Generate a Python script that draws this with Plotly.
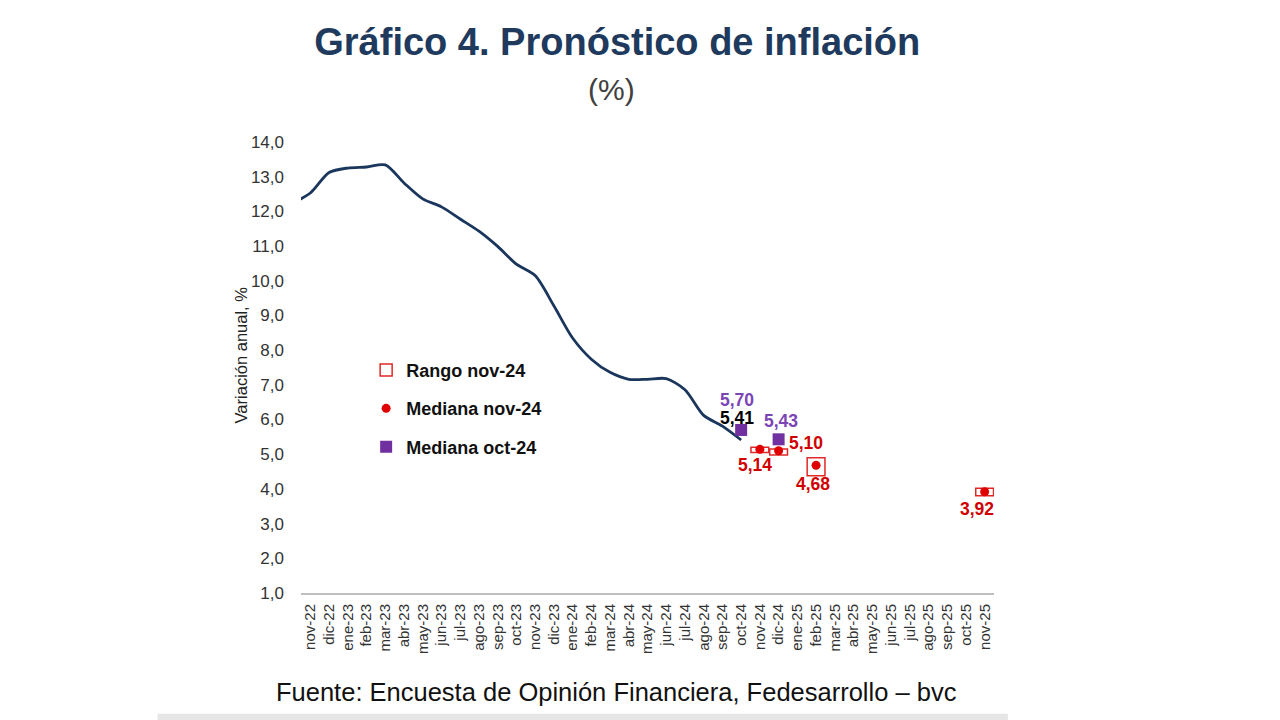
import plotly.graph_objects as go

# ---------------- data ----------------
months = ["nov-22", "dic-22", "ene-23", "feb-23", "mar-23", "abr-23", "may-23", "jun-23",
          "jul-23", "ago-23", "sep-23", "oct-23", "nov-23", "dic-23", "ene-24", "feb-24",
          "mar-24", "abr-24", "may-24", "jun-24", "jul-24", "ago-24", "sep-24", "oct-24",
          "nov-24", "dic-24", "ene-25", "feb-25", "mar-25", "abr-25", "may-25", "jun-25",
          "jul-25", "ago-25", "sep-25", "oct-25", "nov-25"]

# observed annual inflation (first point is oct-22, just left of the axis start)
hist_months = ["oct-22"] + months[:24]
hist_values = [12.22, 12.53, 13.12, 13.25, 13.28, 13.34, 12.82, 12.36, 12.13, 11.78, 11.43,
               10.99, 10.48, 10.15, 9.28, 8.35, 7.74, 7.36, 7.16, 7.16, 7.18, 6.86, 6.12,
               5.81, 5.41]

# survey nov-24
fc_months = ["nov-24", "dic-24", "feb-25", "nov-25"]
med_nov24 = [5.14, 5.10, 4.68, 3.92]
rango_low = [5.05, 4.98, 4.38, 3.80]
rango_high = [5.20, 5.15, 4.90, 4.02]

# survey oct-24
oct_months = ["oct-24", "dic-24"]
med_oct24 = [5.70, 5.43]

# ---------------- helpers ----------------
idx = {m: i for i, m in enumerate(months)}
idx["oct-22"] = -1


def pos(lst):
    return [idx[m] for m in lst]


def fmt(v):
    return f"{v:.2f}".replace(".", ",")


FONT = "Liberation Sans, Arial, sans-serif"
NAVY = "#1B365D"
RED_M = "#E00000"
RED_T = "#D00000"
PURPLE = "#7030A0"
PURPLE_T = "#7B45B5"

fig = go.Figure()

fig.add_trace(go.Bar(
    x=pos(fc_months),
    y=[h - l for h, l in zip(rango_high, rango_low)],
    base=rango_low,
    width=0.95,
    marker=dict(color="white", line=dict(color="#E02828", width=1.5)),
    name="Rango nov-24",
    legendgroup="a",
    hoverinfo="skip",
))

fig.add_trace(go.Scatter(
    x=pos(hist_months), y=hist_values, mode="lines",
    line=dict(color=NAVY, width=2.8, shape="spline", smoothing=0.8),
    showlegend=False, hoverinfo="skip",
))

fig.add_trace(go.Scatter(
    x=pos(fc_months), y=med_nov24, mode="markers",
    marker=dict(color=RED_M, size=9, symbol="circle"),
    name="Mediana nov-24", legendgroup="b",
))

fig.add_trace(go.Scatter(
    x=pos(oct_months), y=med_oct24, mode="markers",
    marker=dict(color=PURPLE, size=12, symbol="square"),
    name="Mediana oct-24", legendgroup="c",
))

# ---------------- data labels ----------------
lab_font = dict(family=FONT, size=17.5)
shifts_nov = [(-5, -16), (27, 8), (-3, -19), (-8, -17)]
for m, v, (dx, dy) in zip(fc_months, med_nov24, shifts_nov):
    fig.add_annotation(x=idx[m], y=v, text=f"<b>{fmt(v)}</b>", showarrow=False,
                       xanchor="center", yanchor="middle",
                       xshift=dx, yshift=dy, font=dict(lab_font, color=RED_T))
shifts_oct = [(-4, 30), (2, 18)]
for m, v, (dx, dy) in zip(oct_months, med_oct24, shifts_oct):
    fig.add_annotation(x=idx[m], y=v, text=f"<b>{fmt(v)}</b>", showarrow=False,
                       xanchor="center", yanchor="middle",
                       xshift=dx, yshift=dy, font=dict(lab_font, color=PURPLE_T))
fig.add_annotation(x=idx[hist_months[-1]], y=hist_values[-1], text=f"<b>{fmt(hist_values[-1])}</b>",
                   showarrow=False, xanchor="center", yanchor="middle",
                   xshift=-4, yshift=22, font=dict(lab_font, color="#000000"))

# ---------------- texts ----------------
fig.add_annotation(xref="paper", yref="paper", x=0.4476, y=1.1153, text="(%)", showarrow=False,
                   xanchor="center", yanchor="middle",
                   font=dict(family=FONT, size=30, color="#404040"))
fig.add_annotation(xref="paper", yref="paper", x=0.455, y=-0.2195,
                   text="Fuente: Encuesta de Opinión Financiera, Fedesarrollo – bvc",
                   showarrow=False, xanchor="center", yanchor="middle",
                   font=dict(family=FONT, size=25.5, color="#111111"))
fig.add_annotation(xref="paper", yref="paper", x=-0.086, y=0.5277, text="Variación anual, %",
                   textangle=-90, showarrow=False, xanchor="center", yanchor="middle",
                   font=dict(family=FONT, size=16.5, color="#222222"))

# bottom grey band
fig.add_shape(type="rect", xref="paper", yref="paper", x0=-0.207, x1=1.02, y0=-0.2816, y1=-0.268,
              line=dict(width=0), fillcolor="#E6E6E6", layer="below")

fig.update_layout(
    width=1280, height=720,
    paper_bgcolor="white", plot_bgcolor="white",
    margin=dict(l=293, r=294, t=134, b=135),
    title=dict(text="<b>Gráfico 4. Pronóstico de inflación</b>", x=0.476, xanchor="center",
               y=0.953, yanchor="middle", xref="container", yref="container",
               font=dict(family=FONT, size=38, color="#203A5E")),
    font=dict(family=FONT),
    showlegend=True,
    legend=dict(x=0.094, y=0.535, xanchor="left", yanchor="top",
                font=dict(family=FONT, size=18, color="#111111", weight="bold"),
                tracegroupgap=12, bgcolor="rgba(0,0,0,0)", traceorder="grouped"),
    barmode="overlay",
)

fig.update_xaxes(
    range=[-0.5, 36.5], tickmode="array", tickvals=list(range(len(months))), ticktext=months,
    tickangle=-90, tickfont=dict(family=FONT, size=15, color="#333333"),
    showgrid=False, zeroline=False, showline=True, linecolor="#BFBFBF", linewidth=2,
    ticks="", ticklabelstandoff=3,
)
fig.update_yaxes(
    range=[1, 14], tickmode="array", tickvals=list(range(1, 15)),
    ticktext=[f"{v},0" for v in range(1, 15)],
    tickfont=dict(family=FONT, size=17, color="#333333"),
    showgrid=False, zeroline=False, showline=False, ticks="", ticklabelstandoff=16,
)

fig.write_html("out.html")
